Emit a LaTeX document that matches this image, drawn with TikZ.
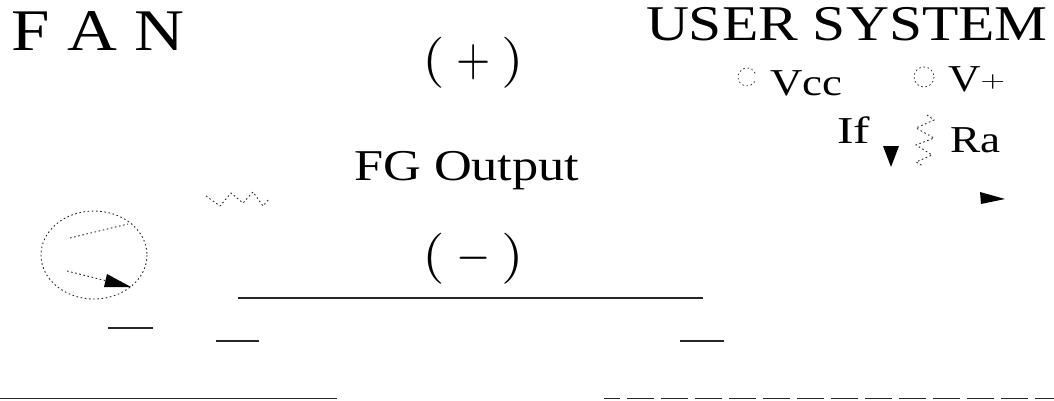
\documentclass[tikz,border=0pt]{standalone}
\usepackage{fontspec}
\usepackage{graphicx}
\setmainfont{Liberation Serif}
\newcommand{\widetxt}[3]{{\fontsize{#2}{#2}\selectfont\scalebox{#1}[1]{#3}}}
\newcommand{\bigsign}[1]{\scalebox{5.8}[5.1]{$($}\hspace{11.5pt}\scalebox{4.4}[5.3]{$#1$}\hspace{11.5pt}\scalebox{5.8}[5.1]{$)$}}
\tikzset{
  lbl/.style={anchor=base west,inner sep=0pt,outer sep=0pt},
  wire/.style={line width=1.3pt,black!85},
  thin dots/.style={line width=.9pt,black!85,dash pattern=on 1.6pt off 2.6pt},
  tip/.style={fill=black,draw=none}
}
\begin{document}
\begin{tikzpicture}[x=1pt,y=-1pt]
\useasboundingbox (0,0) rectangle (1054,401);
\node[lbl] (fan) at (12,51) {\widetxt{1.17}{59}{F A N}};
\node[lbl] (user) at (646,41) {\widetxt{1.19}{50}{USER SYSTEM}};
\node[lbl] (plus) at (422,76) {\bigsign{+}};
\node[lbl] (fg) at (354,180) {\widetxt{1.19}{44}{FG Output}};
\node[lbl] (minus) at (422,271) {\bigsign{-}};
\node[lbl] (vcc) at (770,96) {\widetxt{1.18}{38}{Vcc}};
\node[lbl] (vp) at (948,92) {\widetxt{1.18}{38}{V}\raisebox{4pt}{\scalebox{3.2}[2.2]{$+$}}};
\node[lbl] (if) at (837,143) {\widetxt{1.3}{38}{If}};
\node[lbl] (ra) at (950,153) {\widetxt{1.19}{38}{Ra}};
% fan
\draw[thin dots] (94,255) ellipse [x radius=53,y radius=44];
\coordinate (a1) at (70,238); \coordinate (a2) at (128,224);
\coordinate (b1) at (67,271); \coordinate (b2) at (131,287);
\draw[thin dots] (a1) -- (a2);
\draw[thin dots] (b1) -- (b2);
\fill[tip] (107,274) -- (131,287) -- (104,287) -- cycle;
% zigzags
\draw[thin dots] (206,196) -- (220,206) -- (231,193) -- (243,203) -- (253,192) -- (263,206) -- (269,199);
\draw[thin dots] (927,115) -- (934,120) -- (916,128) -- (934,138) -- (916,145) -- (932,155) -- (916,162) -- (923,166);
% terminals
\draw[thin dots,line width=.7pt] (747,77) ++(30:9) arc (30:340:9);
\draw[thin dots,line width=.7pt] (924,77) circle (10);
% triangles
\fill[tip] (883,146) -- (899,146) -- (891,167) -- cycle;
\fill[tip] (980,192) -- (1005,199) -- (981,204) -- cycle;
% wires
\coordinate (l1) at (238,298); \coordinate (l2) at (703,298);
\coordinate (l3) at (108,328); \coordinate (l4) at (153,328);
\coordinate (l5) at (216,341); \coordinate (l6) at (259,341);
\coordinate (l7) at (680,341); \coordinate (l8) at (724,341);
\coordinate (l9) at (0,398.5); \coordinate (l10) at (337,398.5);
\coordinate (l11) at (604,398.5); \coordinate (l12) at (1054,398.5);
\draw[wire] (l1)--(l2);
\draw[wire] (l3)--(l4);
\draw[wire] (l5)--(l6);
\draw[wire] (l7)--(l8);
\draw[wire] (l9)--(l10);
\draw[wire,dash pattern=on 27pt off 7pt,dash phase=11pt] (l11)--(l12);
\end{tikzpicture}
\end{document}
